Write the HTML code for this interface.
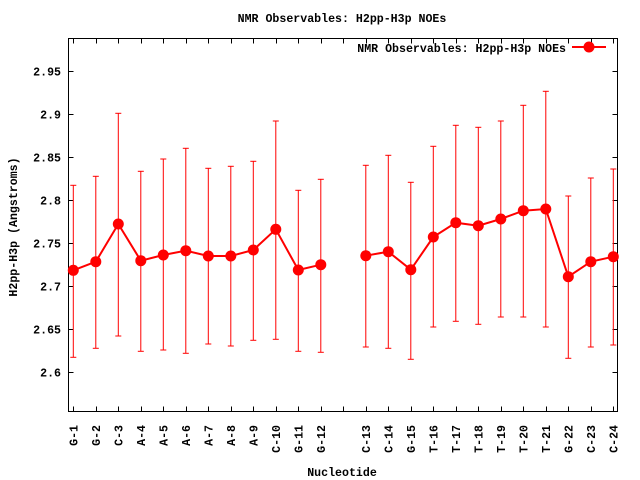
<!DOCTYPE html>
<html><head><meta charset="utf-8"><style>
html,body{margin:0;padding:0;background:#fff;}
svg{display:block;}
text{font-family:"Liberation Mono",monospace;font-weight:bold;font-size:11.6px;fill:#000;}
</style></head><body>
<svg width="640" height="480" viewBox="0 0 640 480" xmlns="http://www.w3.org/2000/svg">
<rect x="0" y="0" width="640" height="480" fill="#fff"/>
<text x="342" y="22" text-anchor="middle">NMR Observables: H2pp-H3p NOEs</text>
<rect x="68.5" y="38.5" width="549" height="373" fill="none" stroke="#000" stroke-width="1"/>
<g id="content"></g>
<text x="566" y="52" text-anchor="end">NMR Observables: H2pp-H3p NOEs</text>
<line x1="572" y1="47" x2="606" y2="47" stroke="#f00" stroke-width="2"/>
<circle cx="589" cy="47" r="5.5" fill="#f00"/>
<text transform="translate(17,227) rotate(-90)" text-anchor="middle">H2pp-H3p (Angstroms)</text>
<text x="342" y="476" text-anchor="middle">Nucleotide</text>
<script>
var ns="http://www.w3.org/2000/svg",c=document.getElementById('content');
function el(n,a,t){var e=document.createElementNS(ns,n);for(var k in a)e.setAttribute(k,a[k]);if(t)e.textContent=t;c.appendChild(e);return e;}
var yt=[["2.95",71.3],["2.9",114.3],["2.85",157.3],["2.8",200.3],["2.75",243.3],["2.7",286.3],["2.65",329.3],["2.6",372.3]];
yt.forEach(function(t){var y=Math.round(t[1])+0.5;
el('line',{x1:68.5,y1:y,x2:73.5,y2:y,stroke:'#000'});
el('line',{x1:612.5,y1:y,x2:617.5,y2:y,stroke:'#000'});
el('text',{x:61,y:y+4,'text-anchor':'end'},t[0]);});
var names=["G-1","G-2","C-3","A-4","A-5","A-6","A-7","A-8","A-9","C-10","G-11","G-12","C-13","C-14","G-15","T-16","T-17","T-18","T-19","T-20","T-21","G-22","C-23","C-24"];
var cy=[270.3,261.7,224,260.7,255,250.7,256,256,250,229.3,270,264.7,255.7,251.7,269.7,237,222.7,225.7,219,210.7,209,276.7,261.7,256.7];
var tp=[185.3,176.3,113.3,171.3,159,148.3,168.3,166.3,161.3,121,190.3,179.3,165.3,155.3,182.3,146.3,125.3,127.3,121,105.3,91.3,196,178,169];
var bt=[357.3,348.3,336,351.3,350,353.3,344,346,340.3,339.3,351.3,352.3,347,348.3,359.3,327,321.3,324.3,317,317,327,358.3,347,345];
var xs=[],pts=[];
for(var i=0;i<24;i++){var s=i<12?i:i+1;xs.push(73.3+s*22.5);}
for(var s=0;s<25;s++){var x=Math.round(73.3+s*22.5)+0.5;
el('line',{x1:x,y1:411.5,x2:x,y2:406.5,stroke:'#000'});
el('line',{x1:x,y1:38.5,x2:x,y2:43.5,stroke:'#000'});}
for(var i=0;i<24;i++){var x=xs[i];
el('text',{transform:'translate('+(x+4)+',425) rotate(-90)','text-anchor':'end'},names[i]);
el('line',{x1:x,y1:tp[i],x2:x,y2:bt[i],stroke:'#f00','stroke-width':1});
el('line',{x1:x-3,y1:tp[i],x2:x+3,y2:tp[i],stroke:'#f00','stroke-width':1});
el('line',{x1:x-3,y1:bt[i],x2:x+3,y2:bt[i],stroke:'#f00','stroke-width':1});
pts.push(x+','+cy[i]);}
el('polyline',{points:pts.slice(0,12).join(' '),fill:'none',stroke:'#f00','stroke-width':2});
el('polyline',{points:pts.slice(12).join(' '),fill:'none',stroke:'#f00','stroke-width':2});
for(var i=0;i<24;i++)el('circle',{cx:xs[i],cy:cy[i],r:5.5,fill:'#f00'});
</script>
</svg>
</body></html>
